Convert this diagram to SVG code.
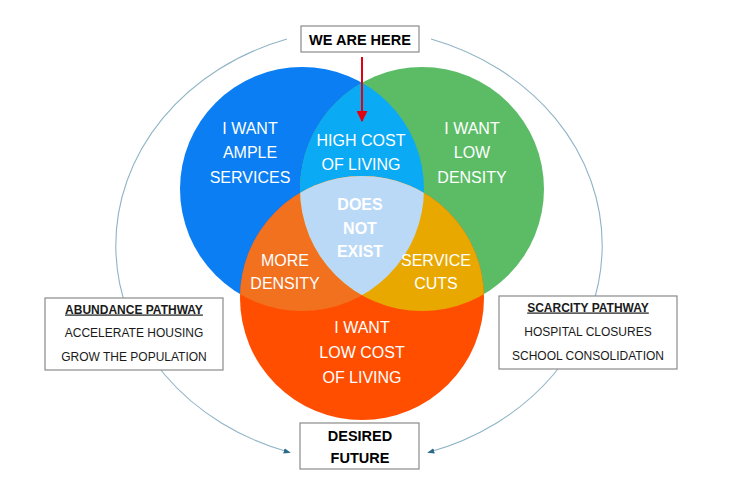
<svg xmlns="http://www.w3.org/2000/svg" width="731" height="500" viewBox="0 0 731 500">
<style>
.lbl{font-family:"Liberation Sans",Arial,sans-serif;font-size:16px;fill:#fff;text-anchor:middle}
.bold{font-weight:bold}
.box{fill:#fff;stroke:#8a8a8a;stroke-width:1.2}
.bt{font-family:"Liberation Sans",Arial,sans-serif;font-size:12px;fill:#1a1a1a;text-anchor:middle}
.hd{font-family:"Liberation Sans",Arial,sans-serif;font-size:14.5px;font-weight:bold;fill:#000;text-anchor:middle}
.arc{fill:none;stroke:#8fb4c6;stroke-width:1.1}
</style>
<defs>
<clipPath id="cb"><circle cx="302" cy="189" r="122"/></clipPath>
<clipPath id="cg"><circle cx="422" cy="189" r="122"/></clipPath>
<marker id="ah" viewBox="0 0 10 10" refX="9" refY="5" markerWidth="7" markerHeight="7" orient="auto" markerUnits="userSpaceOnUse"><path d="M0,1 L10,5 L0,9 Z" fill="#2a6a8a"/></marker>
<marker id="ra" viewBox="0 0 10 10" refX="9" refY="5" markerWidth="11" markerHeight="11" orient="auto" markerUnits="userSpaceOnUse"><path d="M0,0 L10,5 L0,10 Z" fill="#e3000f"/></marker>
</defs>
<rect width="731" height="500" fill="#fff"/>
<g id="venn">
<circle cx="302" cy="189" r="122" fill="#0A7EF2"/>
<circle cx="422" cy="189" r="122" fill="#5CBC66"/>
<circle cx="362" cy="298" r="122" fill="#FF4E00"/>
<circle cx="422" cy="189" r="122" fill="#0BAAF5" clip-path="url(#cb)"/>
<circle cx="362" cy="298" r="122" fill="#F2711F" clip-path="url(#cb)"/>
<circle cx="362" cy="298" r="122" fill="#E9A800" clip-path="url(#cg)"/>
<g clip-path="url(#cb)"><circle cx="362" cy="298" r="122" fill="#BAD9F7" clip-path="url(#cg)"/></g>
</g>
<g id="connectors">
<path class="arc" d="M287 39 A248 217 0 0 0 290 452.5" marker-end="url(#ah)"/>
<path class="arc" d="M431 39 A248 217 0 0 1 428 452.5" marker-end="url(#ah)"/>
<line x1="362" y1="57" x2="362" y2="121" stroke="#e3000f" stroke-width="2" marker-end="url(#ra)"/>
</g>
<g id="ample-services"><text class="lbl" x="250" y="134">I WANT</text><text class="lbl" x="250" y="158">AMPLE</text><text class="lbl" x="250" y="183">SERVICES</text></g>
<g id="low-density"><text class="lbl" x="472" y="134">I WANT</text><text class="lbl" x="472" y="158">LOW</text><text class="lbl" x="472" y="183">DENSITY</text></g>
<g id="high-cost"><text class="lbl" x="361" y="146">HIGH COST</text><text class="lbl" x="361" y="170">OF LIVING</text></g>
<g id="does-not-exist"><text class="lbl bold" x="360" y="210">DOES</text><text class="lbl bold" x="360" y="234">NOT</text><text class="lbl bold" x="360" y="257">EXIST</text></g>
<g id="more-density"><text class="lbl" x="285" y="266">MORE</text><text class="lbl" x="285" y="289">DENSITY</text></g>
<g id="service-cuts"><text class="lbl" x="436" y="266">SERVICE</text><text class="lbl" x="436" y="289">CUTS</text></g>
<g id="low-cost"><text class="lbl" x="362" y="333">I WANT</text><text class="lbl" x="362" y="358">LOW COST</text><text class="lbl" x="362" y="383">OF LIVING</text></g>
<g id="we-are-here"><rect class="box" x="301" y="26" width="118" height="26"/><text class="hd" x="360" y="44.5">WE ARE HERE</text></g>
<g id="abundance"><rect class="box" x="45" y="298" width="178" height="72"/><text class="bt bold" x="134" y="313.5" text-decoration="underline">ABUNDANCE PATHWAY</text><text class="bt" x="134" y="337">ACCELERATE HOUSING</text><text class="bt" x="134" y="361">GROW THE POPULATION</text></g>
<g id="scarcity"><rect class="box" x="499" y="296" width="178" height="73"/><text class="bt bold" x="588" y="311.5" text-decoration="underline">SCARCITY PATHWAY</text><text class="bt" x="588" y="335.5">HOSPITAL CLOSURES</text><text class="bt" x="588" y="359.5">SCHOOL CONSOLIDATION</text></g>
<g id="desired-future"><rect class="box" x="300" y="423" width="119" height="46"/><text class="hd" x="360" y="441">DESIRED</text><text class="hd" x="360" y="463">FUTURE</text></g>
</svg>
